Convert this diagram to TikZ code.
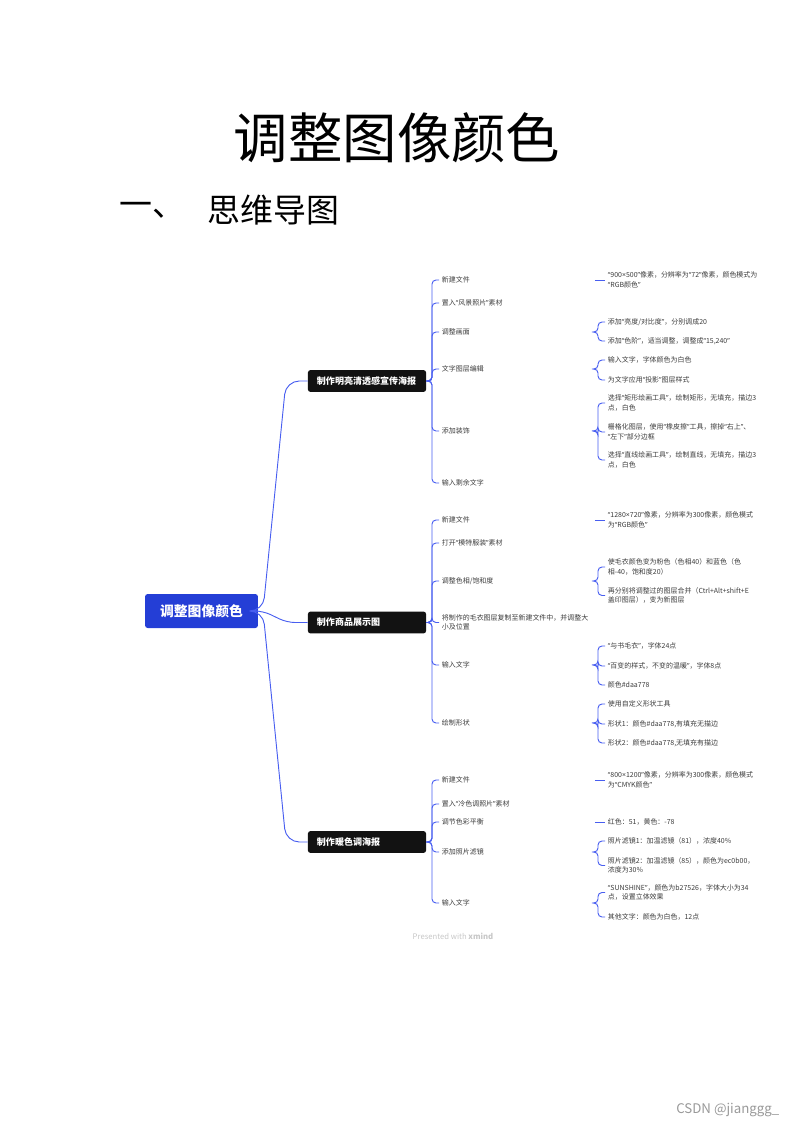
\documentclass[tikz,border=0pt]{standalone}
\usepackage{fontspec}
\setmainfont{Noto Sans CJK SC}
\newfontfamily\latinfont{Noto Sans}
\newcommand{\qo}{{\latinfont “}}
\newcommand{\qc}{{\latinfont ”}}
\newcommand{\by}{{\latinfont ×}}
\definecolor{rootblue}{RGB}{36,62,214}
\definecolor{linkblue}{RGB}{72,94,240}
\definecolor{itemgray}{RGB}{60,60,60}
\begin{document}
\begin{tikzpicture}[x=0.2648mm, y=-0.2648mm,
    rootbox/.style={fill=rootblue, text=white, rounded corners=2pt, minimum width=29.9mm, minimum height=9mm, font=\fontsize{10.4}{12}\selectfont\bfseries},
    mainbox/.style={fill=black!93, text=white, rounded corners=2pt, text width=26.5mm, inner xsep=2.4mm, minimum height=5.8mm, align=left, font=\fontsize{6.8}{8}\selectfont\bfseries},
    subitem/.style={anchor=west, inner xsep=2pt, inner ysep=1pt, text=itemgray, text width=39.7mm, align=left, font=\fontsize{5.25}{7.15}\selectfont},
    leaf/.style={anchor=west, inner xsep=2pt, inner ysep=1pt, text=itemgray, align=left, font=\fontsize{5.25}{7.15}\selectfont},
    link/.style={linkblue, line width=0.7pt, rounded corners=3pt}]
    \useasboundingbox (0,0) rectangle (793,1122);

    \node (title) at (397,138) {\fontsize{41}{41}\selectfont 调整图像颜色};
    \node[anchor=west, inner sep=0] (secnum) at (119,210) {\fontsize{24.8}{26}\selectfont 一、};
    \node[anchor=west, inner sep=0] (secname) at (207,210) {\fontsize{24.8}{26}\selectfont 思维导图};

    \node[rootbox] (root) at (201.5,611) {调整图像颜色};
    \node[mainbox] (b1) at (367,381) {制作明亮清透感宣传海报};
    \node[mainbox] (b2) at (367,622.5) {制作商品展示图};
    \node[mainbox] (b3) at (367,842) {制作暖色调海报};

    \coordinate (hub) at (263,611);
    \draw[link, rounded corners=10pt] (root.east) -- (hub) -- (286,381) -- (b1.west);
    \draw[link, rounded corners=6pt] (root.east) -- (hub) -- (287,622.5) -- (b2.west);
    \draw[link, rounded corners=10pt] (root.east) -- (hub) -- (286,842) -- (b3.west);

    \node[subitem] (n11) at (439,280) {新建文件};
    \node[subitem] (n12) at (439,303) {置入\qo{}风景照片\qc{}素材};
    \node[subitem] (n13) at (439,332) {调整画面};
    \node[subitem] (n14) at (439,369) {文字图层编辑};
    \node[subitem] (n15) at (439,431) {添加装饰};
    \node[subitem] (n16) at (439,483) {输入剩余文字};

    \node[subitem] (n21) at (439,520) {新建文件};
    \node[subitem] (n22) at (439,543) {打开\qo{}模特服装\qc{}素材};
    \node[subitem] (n23) at (439,581) {调整色相/饱和度};
    \node[subitem] (n24) at (439,622.5) {将制作的毛衣图层复制至新建文件中，并调整大\\小及位置};
    \node[subitem] (n25) at (439,665) {输入文字};
    \node[subitem] (n26) at (439,723) {绘制形状};

    \node[subitem] (n31) at (439,780) {新建文件};
    \node[subitem] (n32) at (439,804) {置入\qo{}冷色调照片\qc{}素材};
    \node[subitem] (n33) at (439,822) {调节色彩平衡};
    \node[subitem] (n34) at (439,852) {添加照片滤镜};
    \node[subitem] (n35) at (439,903) {输入文字};

    \coordinate (h1) at (432,381);
    \coordinate (h2) at (432,622.5);
    \coordinate (h3) at (432,842);
    \foreach \c in {n11,n12,n13,n14,n15,n16}
        \draw[link] (b1.east) -- (h1) -- (h1 |- \c.west) -- (\c.west);
    \foreach \c in {n21,n22,n23,n24,n25,n26}
        \draw[link] (b2.east) -- (h2) -- (h2 |- \c.west) -- (\c.west);
    \foreach \c in {n31,n32,n33,n34,n35}
        \draw[link] (b3.east) -- (h3) -- (h3 |- \c.west) -- (\c.west);

    \node[leaf] (m111) at (605,280) {\qo{}900\by{}500\qc{}像素，分辨率为\qo{}72\qc{}像素，颜色模式为\\\qo{}RGB颜色\qc};
    \node[leaf] (m131) at (605,322) {添加\qo{}亮度/对比度\qc{}，分别调成20};
    \node[leaf] (m132) at (605,341) {添加\qo{}色阶\qc{}，适当调整，调整成\qo{}15,240\qc};
    \node[leaf] (m141) at (605,360) {输入文字，字体颜色为白色};
    \node[leaf] (m142) at (605,380) {为文字应用\qo{}投影\qc{}图层样式};
    \node[leaf] (m151) at (605,403) {选择\qo{}矩形绘画工具\qc{}，绘制矩形，无填充，描边3\\点，白色};
    \node[leaf] (m152) at (605,432) {栅格化图层，使用\qo{}橡皮擦\qc{}工具，擦掉\qo{}右上\qc{}、\\\qo{}左下\qc{}部分边框};
    \node[leaf] (m153) at (605,460) {选择\qo{}直线绘画工具\qc{}，绘制直线，无填充，描边3\\点，白色};

    \node[leaf] (m211) at (605,520) {\qo{}1280\by{}720\qc{}像素，分辨率为300像素，颜色模式\\为\qo{}RGB颜色\qc};
    \node[leaf] (m231) at (605,567) {使毛衣颜色变为粉色（色相40）和蓝色（色\\相-40，饱和度20）};
    \node[leaf] (m232) at (605,595.5) {再分别将调整过的图层合并（Ctrl+Alt+shift+E\\盖印图层），变为新图层};
    \node[leaf] (m251) at (605,646) {\qo{}与书毛衣\qc{}，字体24点};
    \node[leaf] (m252) at (605,666) {\qo{}百变的样式，不变的温暖\qc{}，字体8点};
    \node[leaf] (m253) at (605,685) {颜色\#daa778};
    \node[leaf] (m261) at (605,704) {使用自定义形状工具};
    \node[leaf] (m262) at (605,724) {形状1：颜色\#daa778,有填充无描边};
    \node[leaf] (m263) at (605,743) {形状2：颜色\#daa778,无填充有描边};

    \node[leaf] (m311) at (605,780) {\qo{}800\by{}1200\qc{}像素，分辨率为300像素，颜色模式\\为\qo{}CMYK颜色\qc};
    \node[leaf] (m331) at (605,822) {红色：51，黄色：-78};
    \node[leaf] (m341) at (605,841) {照片滤镜1：加温滤镜（81），浓度40\%};
    \node[leaf] (m342) at (605,865.5) {照片滤镜2：加温滤镜（85），颜色为ec0b00，\\浓度为30\%};
    \node[leaf] (m351) at (605,892.5) {\qo{}SUNSHINE\qc{}，颜色为b27526，字体大小为34\\点，设置立体效果};
    \node[leaf] (m352) at (605,917) {其他文字：颜色为白色，12点};

    \draw[link] (n11.east) -- (m111.west);
    \draw[link] (n21.east) -- (m211.west);
    \draw[link] (n31.east) -- (m311.west);
    \draw[link] (n33.east) -- (m331.west);

    \coordinate (k13) at (598,332);
    \coordinate (k14) at (598,369);
    \coordinate (k15) at (598,431);
    \coordinate (k23) at (598,581);
    \coordinate (k25) at (598,665);
    \coordinate (k26) at (598,723);
    \coordinate (k34) at (598,852);
    \coordinate (k35) at (598,903);
    \foreach \c in {m131,m132}
        \draw[link] (n13.east) -- (k13) -- (k13 |- \c.west) -- (\c.west);
    \foreach \c in {m141,m142}
        \draw[link] (n14.east) -- (k14) -- (k14 |- \c.west) -- (\c.west);
    \foreach \c in {m151,m152,m153}
        \draw[link] (n15.east) -- (k15) -- (k15 |- \c.west) -- (\c.west);
    \foreach \c in {m231,m232}
        \draw[link] (n23.east) -- (k23) -- (k23 |- \c.west) -- (\c.west);
    \foreach \c in {m251,m252,m253}
        \draw[link] (n25.east) -- (k25) -- (k25 |- \c.west) -- (\c.west);
    \foreach \c in {m261,m262,m263}
        \draw[link] (n26.east) -- (k26) -- (k26 |- \c.west) -- (\c.west);
    \foreach \c in {m341,m342}
        \draw[link] (n34.east) -- (k34) -- (k34 |- \c.west) -- (\c.west);
    \foreach \c in {m351,m352}
        \draw[link] (n35.east) -- (k35) -- (k35 |- \c.west) -- (\c.west);

    \node[text=black!22, font=\fontsize{5.8}{7}\selectfont] (credit) at (453,936) {Presented with \textbf{xmind}};
    \node[anchor=east, text=black!40, font=\fontsize{10}{12}\selectfont] (mark) at (784,1110) {CSDN @jianggg\_};
\end{tikzpicture}
\end{document}
